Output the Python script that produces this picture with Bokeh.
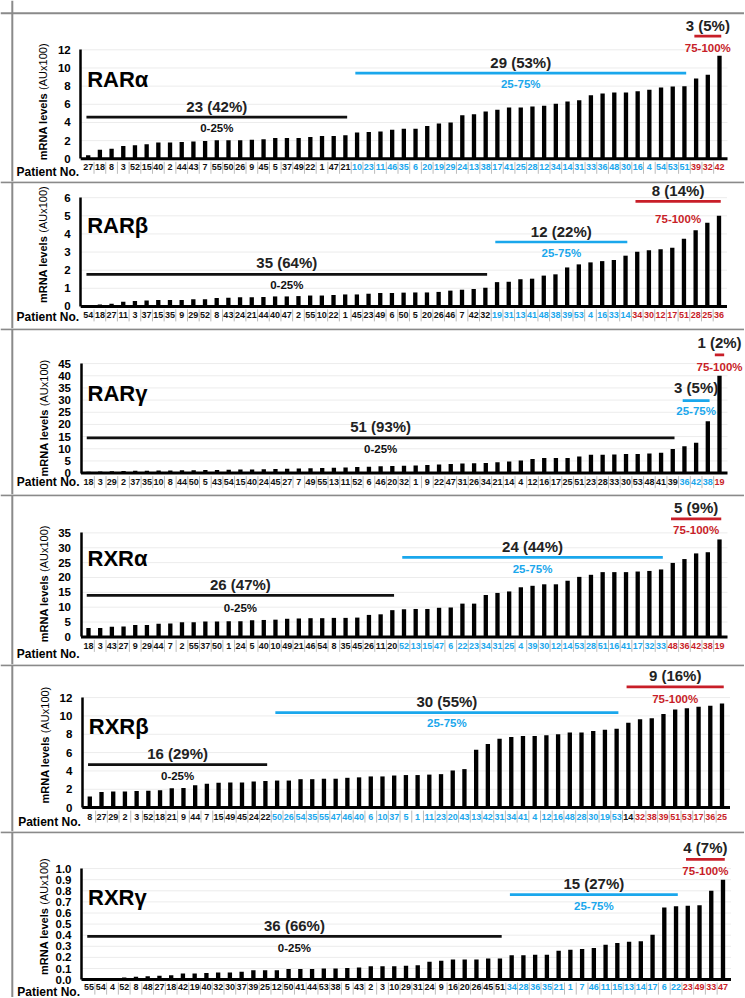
import numpy as np
from bokeh.plotting import figure
from bokeh.layouts import column
from bokeh.models import ColumnDataSource, FixedTicker, Span, Range1d, PrintfTickFormatter
from bokeh.embed import file_html
from bokeh.resources import INLINE
from bokeh.core.properties import value

# ---------------- data ----------------
genes = ["RARα", "RARβ", "RARγ", "RXRα", "RXRβ", "RXRγ"]

rara_patients = [27, 18, 8, 3, 52, 15, 40, 2, 44, 43, 7, 55, 50, 26, 9, 45, 5, 37, 49, 22, 1, 47, 21,
                 10, 23, 11, 46, 35, 6, 20, 19, 29, 24, 13, 38, 17, 41, 25, 28, 12, 34, 14, 31, 33, 36, 48, 30, 16, 4, 54, 53, 51,
                 39, 32, 42]
rara_values = [0.4, 1.0, 1.1, 1.4, 1.5, 1.6, 1.8, 1.8, 1.85, 1.9, 1.95, 2.05, 2.05, 2.05, 2.1, 2.15, 2.3, 2.3, 2.3, 2.4, 2.5, 2.5, 2.6,
               2.9, 2.95, 3.0, 3.2, 3.3, 3.3, 3.6, 3.9, 4.0, 4.8, 4.9, 5.2, 5.4, 5.65, 5.65, 5.75, 5.85, 6.05, 6.3, 6.45, 7.0, 7.2, 7.3, 7.3, 7.45, 7.6, 7.85, 7.95, 8.0,
               8.85, 9.25, 11.35]
rara_groups = [23, 29, 3]
rara_counts = ["23 (42%)", "29 (53%)", "3 (5%)"]
rara_ticks = [0, 2, 4, 6, 8, 10, 12]

rarb_patients = [54, 18, 27, 11, 3, 37, 15, 35, 9, 29, 52, 8, 43, 24, 21, 44, 40, 47, 2, 55, 10, 22, 1, 45, 23, 49, 6, 50, 5, 20, 26, 46, 7, 42, 32,
                 19, 31, 13, 41, 48, 38, 39, 53, 4, 16, 33, 14,
                 34, 30, 12, 17, 51, 28, 25, 36]
rarb_values = [0.05, 0.1, 0.15, 0.25, 0.3, 0.33, 0.35, 0.35, 0.35, 0.4, 0.4, 0.46, 0.48, 0.5, 0.5, 0.52, 0.55, 0.55, 0.57, 0.6,
               0.6, 0.63, 0.66, 0.66, 0.7, 0.74, 0.74, 0.76, 0.77, 0.77, 0.8, 0.87, 0.92, 0.96, 1.03,
               1.34, 1.36, 1.5, 1.53, 1.7, 1.77, 2.15, 2.32, 2.43, 2.5, 2.56, 2.8,
               3.02, 3.1, 3.15, 3.24, 3.74, 4.2, 4.62, 5.0]
rarb_groups = [35, 12, 8]
rarb_counts = ["35 (64%)", "12 (22%)", "8 (14%)"]
rarb_ticks = [0, 1, 2, 3, 4, 5, 6]

rarg_patients = [18, 3, 29, 2, 37, 35, 10, 8, 44, 50, 5, 43, 54, 15, 40, 24, 45, 27, 7, 49, 55, 13, 11, 52, 6, 46, 20, 32, 1, 9,
                 22, 47, 31, 26, 34, 21, 14, 4, 12, 16, 17, 25, 51, 23, 28, 33, 30, 53, 48, 41, 39,
                 36, 42, 38,
                 19]
rarg_values = [0.6, 0.7, 0.8, 0.9, 1.0, 1.0, 1.1, 1.1, 1.2, 1.2, 1.3, 1.3, 1.4, 1.5, 1.5, 1.6, 1.7, 1.8, 1.9, 2.0,
               2.1, 2.2, 2.3, 2.5, 2.6, 2.8, 2.9, 3.0, 3.1, 3.3, 3.5, 3.7, 3.9, 4.0, 4.2, 4.5, 4.8, 5.2, 5.8, 6.2,
               6.2, 6.2, 6.8, 7.5, 7.5, 7.6, 7.9, 7.9, 8.1, 8.4, 9.9,
               11.0, 12.5, 21.3,
               40.0]
rarg_groups = [51, 3, 1]
rarg_counts = ["51 (93%)", "3 (5%)", "1 (2%)"]
rarg_ticks = [0, 5, 10, 15, 20, 25, 30, 35, 40, 45]

rxra_patients = [18, 3, 43, 27, 9, 29, 44, 7, 2, 55, 37, 50, 1, 24, 5, 40, 10, 49, 21, 46, 54, 8, 35, 45, 26, 11, 20,
                 52, 13, 15, 47, 6, 22, 23, 34, 31, 25, 4, 39, 30, 12, 14, 53, 28, 51, 16, 41, 17, 32, 33,
                 48, 36, 42, 38, 19]
rxra_values = [3.0, 3.0, 3.4, 3.5, 4.0, 4.0, 4.4, 4.5, 4.9, 4.9, 5.2, 5.2, 5.3, 5.3, 5.6, 5.7, 5.8, 6.1, 6.2, 6.3,
               6.3, 6.4, 6.4, 6.5, 7.4, 7.6, 9.0,
               9.3, 9.4, 9.4, 9.8, 9.9, 11.2, 11.2, 14.1, 14.8, 15.3, 16.7, 17.2, 17.7, 17.7, 18.9, 20.2, 20.9, 21.8, 21.8, 21.8,
               22.0, 22.2, 22.7,
               24.9, 26.2, 28.1, 28.5, 32.8]
rxra_groups = [27, 23, 5]
rxra_counts = ["26 (47%)", "24 (44%)", "5 (9%)"]
rxra_ticks = [0, 5, 10, 15, 20, 25, 30, 35]

rxrb_patients = [8, 27, 29, 2, 3, 52, 18, 21, 9, 44, 7, 15, 49, 45, 24, 22,
                 50, 26, 54, 35, 55, 47, 46, 40, 6, 10, 37, 5, 1, 11, 23, 20, 43, 13, 42, 31, 34, 41, 4, 12, 16, 48, 28, 30, 19, 53,
                 14, 32, 38, 39, 51, 53, 17, 36, 25]
rxrb_values = [1.2, 1.7, 1.75, 1.75, 1.8, 1.85, 1.9, 2.1, 2.15, 2.45, 2.6, 2.7, 2.75, 2.75, 2.85, 2.9,
               2.95, 2.95, 3.1, 3.1, 3.15, 3.15, 3.25, 3.3, 3.4, 3.4, 3.5, 3.55, 3.55, 3.6, 3.65, 4.05, 4.2, 6.3, 6.95, 7.5,
               7.7, 7.8, 7.8, 7.9, 8.0, 8.2, 8.2, 8.35, 8.5, 8.6,
               9.25, 9.65, 9.75, 10.2, 10.7, 10.85, 11.0, 11.1, 11.35]
rxrb_groups = [16, 30, 9]
rxrb_counts = ["16 (29%)", "30 (55%)", "9 (16%)"]
rxrb_ticks = [0, 2, 4, 6, 8, 10, 12]
rxrb_black_labels = [46]   # label "14" printed in black

rxrg_patients = [55, 54, 4, 52, 8, 48, 27, 18, 42, 19, 40, 32, 30, 37, 39, 25, 12, 50, 41, 44, 53, 38, 5, 43, 2, 3, 10, 29, 31, 24, 9, 16, 20, 26, 45, 51,
                 34, 28, 36, 35, 21, 1, 7, 46, 11, 15, 13, 14, 17, 6, 22,
                 23, 49, 33, 47]
rxrg_values = [0.01, 0.01, 0.015, 0.02, 0.025, 0.03, 0.035, 0.04, 0.055, 0.055, 0.06, 0.065, 0.065, 0.07, 0.085, 0.085, 0.085, 0.095, 0.095, 0.095,
               0.1, 0.1, 0.105, 0.11, 0.12, 0.12, 0.12, 0.125, 0.13, 0.16, 0.17, 0.18, 0.18, 0.18, 0.19, 0.19,
               0.22, 0.22, 0.225, 0.225, 0.26, 0.27, 0.275, 0.285, 0.315, 0.33, 0.34, 0.345, 0.405, 0.65, 0.66,
               0.665, 0.67, 0.80, 0.90]
rxrg_groups = [36, 15, 4]
rxrg_counts = ["36 (66%)", "15 (27%)", "4 (7%)"]
rxrg_ticks = [0.0, 0.1, 0.2, 0.3, 0.4, 0.5, 0.6, 0.7, 0.8, 0.9, 1.0]

range_labels = ["0-25%", "25-75%", "75-100%"]

# ---------------- style / layout ----------------
FONT = "Liberation Sans"
BLACK = "#111111"
BLUE = "#1AA7EC"
RED = "#C81E28"
TIER_COLORS = [BLACK, BLUE, RED]
BORDER = "#8a8a8a"
GRID = "#ececec"
W = 744

layouts = [
    dict(height=181, border=12.7, zero=158.3, axis_px=109.0, x0=87.7, x1=719.0, lines=(41.6, 85.6, 122.6),
         cnt=(11, 11, 10.7), rng=(-10.6, -10.6, -11.4), gene=79, ylab=57, tick_lab=8.5, pat=13.4, fmt="%d"),
    dict(height=147, border=0.8, zero=124.9, axis_px=108.7, x0=87.7, x1=718.5, lines=(32, 64.4, 105),
         cnt=(11.7, 11, 11), rng=(-11, -10.7, -17.3), gene=81, ylab=61.7, tick_lab=8.6, pat=10.5, fmt="%d"),
    dict(height=166, border=0.8, zero=144.6, axis_px=109.5, x0=88.0, x1=719.0, lines=(35.2, 72.5, 118.2),
         cnt=(11.3, 13.3, 12.6), rng=(-11, -10, -11.7), gene=79.2, ylab=55, tick_lab=8.7, pat=9.3, fmt="%d"),
    dict(height=170, border=0.8, zero=142.4, axis_px=104.0, x0=88.0, x1=719.0, lines=(41.6, 79.6, 118),
         cnt=(11, 11, 11), rng=(-12.3, -11.6, -11.4), gene=78.3, ylab=53, tick_lab=9.3, pat=17, fmt="%d"),
    dict(height=167, border=0.8, zero=143.1, axis_px=110.0, x0=89.3, x1=721.5, lines=(43, 95, 120.7),
         cnt=(11.3, 11, 11), rng=(-11.3, -10.7, -11.7), gene=81, ylab=62.5, tick_lab=9, pat=14.3, fmt="%d"),
    dict(height=166, border=0.8, zero=148.1, axis_px=111.0, x0=88.5, x1=722.5, lines=(43.3, 85, 120.3),
         cnt=(11, 11, 11.7), rng=(-11.3, -11.7, -11.6), gene=81.7, ylab=63, tick_lab=7, pat=12.3, fmt="%.1f"),
]

panel_data = [
    (genes[0], rara_patients, rara_values, rara_groups, rara_counts, rara_ticks, []),
    (genes[1], rarb_patients, rarb_values, rarb_groups, rarb_counts, rarb_ticks, []),
    (genes[2], rarg_patients, rarg_values, rarg_groups, rarg_counts, rarg_ticks, []),
    (genes[3], rxra_patients, rxra_values, rxra_groups, rxra_counts, rxra_ticks, []),
    (genes[4], rxrb_patients, rxrb_values, rxrb_groups, rxrb_counts, rxrb_ticks, rxrb_black_labels),
    (genes[5], rxrg_patients, rxrg_values, rxrg_groups, rxrg_counts, rxrg_ticks, []),
]


def build(gene, pats, vals, groups, counts, ticks, black_override, L):
    n = len(pats)
    ppx = (L["x1"] - L["x0"]) / (n - 1)
    s = L["axis_px"] / ticks[-1]
    xs = -L["x0"] / ppx
    xe = xs + W / ppx
    ye = L["zero"] / s
    ys = -(L["height"] - L["zero"]) / s
    p = figure(width=W, height=L["height"], x_range=Range1d(xs, xe), y_range=Range1d(ys, ye),
               min_border=0, min_border_left=0, min_border_right=0, min_border_top=0, min_border_bottom=0,
               toolbar_location=None, output_backend="svg", outline_line_color=None)
    p.xaxis.visible = False
    p.grid.visible = False

    axis_x = -7.5 / ppx
    right = (n - 1) + 8 / ppx

    ax = p.yaxis[0]
    ax.fixed_location = axis_x
    ax.bounds = (0, ticks[-1])
    ax.ticker = FixedTicker(ticks=ticks)
    ax.formatter = PrintfTickFormatter(format=L["fmt"])
    ax.axis_line_width = 2.5
    ax.axis_line_color = "black"
    ax.major_tick_line_color = None
    ax.minor_tick_line_color = None
    ax.major_label_standoff = 4
    ax.major_label_text_font = FONT
    ax.major_label_text_font_style = "bold"
    ax.major_label_text_font_size = "11.5px"
    ax.major_label_text_color = "black"

    # grid lines
    p.segment(x0=[axis_x] * len(ticks), x1=[right] * len(ticks), y0=ticks, y1=ticks,
              line_color=GRID, line_width=1)

    # bars
    idx = list(range(n))
    p.vbar(x=idx, top=vals, width=0.37, fill_color="black", line_color=None)

    # baseline
    p.segment(x0=[axis_x], x1=[right], y0=[0], y1=[0], line_color="black", line_width=3)

    # tiers & label colors
    tiers = []
    for k, g in enumerate(groups):
        tiers += [k] * g
    colors = [TIER_COLORS[t] for t in tiers]
    for i in black_override:
        colors[i] = BLACK

    # separators in label row
    sep_x = [i - 0.5 for i in range(1, n)]
    p.segment(x0=sep_x, x1=sep_x, y0=[-3 / s] * len(sep_x), y1=[-15 / s] * len(sep_x),
              line_color="#a8a8a8", line_width=0.8)

    src = ColumnDataSource(dict(x=idx, y=[-L["tick_lab"] / s] * n, t=[str(v) for v in pats], c=colors))
    p.text(x="x", y="y", text="t", text_color="c", source=src, text_align="center", text_baseline="middle",
           text_font=value(FONT), text_font_style="bold", text_font_size="9px")

    # Patient No.
    p.text(x=[-9 / ppx], y=[-L["pat"] / s], text=["Patient No."], text_align="right", text_baseline="middle",
           text_font=value(FONT), text_font_style="bold", text_font_size="12px", text_color="black")

    # gene name
    p.text(x=[-1 / ppx], y=[L["gene"] / s], text=[gene], text_align="left", text_baseline="middle",
           text_font=value(FONT), text_font_style="bold", text_font_size="22px", text_color="black")

    # y-axis label (bold + regular parts)
    fs = 11
    w1 = 6.113 * fs
    wsp = 0.278 * fs
    w2 = 4.223 * fs
    start = L["ylab"] - (w1 + wsp + w2) / 2
    ylx = -45 / ppx
    p.text(x=[ylx], y=[start / s], text=["mRNA levels"], angle=np.pi / 2, text_align="left", text_baseline="middle",
           text_font=value(FONT), text_font_style="bold", text_font_size=f"{fs}px", text_color="black")
    p.text(x=[ylx], y=[(start + w1 + wsp) / s], text=["(AUx100)"], angle=np.pi / 2, text_align="left",
           text_baseline="middle", text_font=value(FONT), text_font_style="normal", text_font_size=f"{fs}px",
           text_color="black")

    # group lines and texts
    pos = 0
    for k, g in enumerate(groups):
        a, b = pos, pos + g - 1
        pos += g
        ext = 0.4 if g == 1 else 0.15
        ly = L["lines"][k] / s
        p.segment(x0=[a - ext], x1=[b + ext], y0=[ly], y1=[ly], line_color=TIER_COLORS[k], line_width=2.7)
        cx = (a + b) / 2
        p.text(x=[cx], y=[(L["lines"][k] + L["cnt"][k]) / s], text=[counts[k]], text_align="center",
               text_baseline="middle", text_font=value(FONT), text_font_style="bold", text_font_size="15px",
               text_color="#222222")
        p.text(x=[cx], y=[(L["lines"][k] + L["rng"][k]) / s], text=[range_labels[k]], text_align="center",
               text_baseline="middle", text_font=value(FONT), text_font_style="bold", text_font_size="11.5px",
               text_color=TIER_COLORS[k])

    # panel borders
    p.add_layout(Span(location=(L["zero"] - L["border"]) / s, dimension="width", line_color=BORDER, line_width=2))
    p.add_layout(Span(location=xs + 11.8 / ppx, dimension="height", line_color=BORDER, line_width=2))
    return p


figs = [build(*d, L) for d, L in zip(panel_data, layouts)]
layout = column(*figs, spacing=0)
open("out.html", "w").write(file_html(layout, INLINE))
